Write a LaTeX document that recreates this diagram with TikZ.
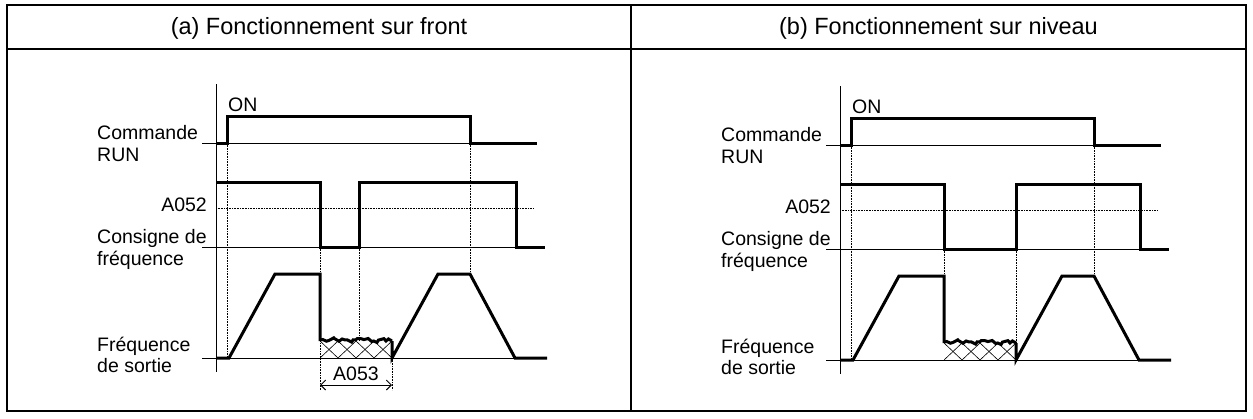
\documentclass[tikz,border=0pt]{standalone}
\usepackage{fontspec}
\setmainfont{Liberation Sans}
\usetikzlibrary{arrows.meta,decorations.pathmorphing}

\begin{document}
\begin{tikzpicture}[x=1pt,y=-1pt, every node/.style={inner sep=0pt}, lbl/.style={font=\fontsize{19.5}{21.5}\selectfont,align=left,anchor=west}, ttl/.style={font=\fontsize{23.5}{27}\selectfont}, sig/.style={line width=3pt}, axisline/.style={line width=0.9pt}, guide/.style={densely dotted,line width=0.6pt}, cell/.style={line width=2pt}, noise/.style={sig,decorate,decoration={random steps,segment length=3pt,amplitude=2.4pt}}, hatch/.style={line width=0.6pt}]
\useasboundingbox (0,0) rectangle (1253,418);
% table frame
\draw[cell] (7,5) rectangle (1246,411);
\draw[cell] (7,49) -- (1246,49);
\draw[cell] (631,5) -- (631,411);
\node[ttl] (ttla) at (319,28) {(a) Fonctionnement sur front};
\node[ttl] (ttlb) at (938.5,28) {(b) Fonctionnement sur niveau};

% (a) edge triggered
\node[lbl] (runa) at (97,143.5) {Commande\\RUN};
\node[lbl] (refa) at (97,249.5) {Consigne de\\fréquence};
\node[lbl] (outa) at (97,355) {Fréquence\\de sortie};
\node[lbl,anchor=east] (lvla) at (207,205) {A052};
\node[lbl] (ona) at (228,105) {ON};
\draw[axisline] (216,84) -- (216,372);
\draw[axisline] (202,143) -- (470,143);
\draw[axisline] (202,247) -- (545,247);
\draw[axisline] (202,358) -- (547,358);
\draw[guide] (216,208) -- (533,208);
\draw[guide] (227,143) -- (227,358);
\draw[guide] (320,247) -- (320,390);
\draw[guide] (359,247) -- (359,341);
\draw[guide] (392,358) -- (392,390);
\draw[guide] (470,143) -- (470,274);
\begin{scope}
\clip (320,341) rectangle (392,358);
\foreach \i in {0,...,3}
  \draw[hatch] (320+18*\i,358) -- (338+18*\i,341) (320+18*\i,341) -- (338+18*\i,358);
\end{scope}
\draw[sig] (216,143) -- (227,143) -- (227,116) -- (470,116) -- (470,143) -- (537,143);
\draw[sig] (216,182) -- (320,182) -- (320,247) -- (359,247) -- (359,182) -- (516,182) -- (516,247) -- (545,247);
\draw[sig] (216,358) -- (229,358) -- (275,274) -- (320,274) -- (320,341);
\pgfmathsetseed{7}
\draw[noise] (320,340) -- (392,341);
\draw[sig] (392,341) -- (392,358) -- (438,274) -- (470,274) -- (515,358) -- (547,358);
\draw[{Straight Barb[length=5pt]}-{Straight Barb[length=5pt]},axisline] (320,385) -- (392,385);
\node[lbl,anchor=center] (tda) at (356,374) {A053};

% (b) level triggered
\begin{scope}[shift={(624,2)}]
\node[lbl] (runb) at (97,143.5) {Commande\\RUN};
\node[lbl] (refb) at (97,249.5) {Consigne de\\fréquence};
\node[lbl] (outb) at (97,355) {Fréquence\\de sortie};
\node[lbl,anchor=east] (lvlb) at (207,205) {A052};
\node[lbl] (onb) at (228,105) {ON};
\draw[axisline] (216,84) -- (216,372);
\draw[axisline] (202,143) -- (470,143);
\draw[axisline] (202,247) -- (545,247);
\draw[axisline] (202,358) -- (547,358);
\draw[guide] (216,208) -- (533,208);
\draw[guide] (227,143) -- (227,358);
\draw[guide] (320,247) -- (320,341);
\draw[guide] (392,247) -- (392,341);
\draw[guide] (470,143) -- (470,274);
\begin{scope}
\clip (320,341) rectangle (392,358);
\foreach \i in {0,...,3}
  \draw[hatch] (320+18*\i,358) -- (338+18*\i,341) (320+18*\i,341) -- (338+18*\i,358);
\end{scope}
\draw[sig] (216,143) -- (227,143) -- (227,116) -- (470,116) -- (470,143) -- (537,143);
\draw[sig] (216,182) -- (320,182) -- (320,247) -- (392,247) -- (392,182) -- (516,182) -- (516,247) -- (545,247);
\draw[sig] (216,358) -- (229,358) -- (275,274) -- (320,274) -- (320,341);
\pgfmathsetseed{7}
\draw[noise] (320,340) -- (392,341);
\draw[sig] (392,341) -- (392,358) -- (438,274) -- (470,274) -- (515,358) -- (547,358);
\end{scope}
\end{tikzpicture}
\end{document}
